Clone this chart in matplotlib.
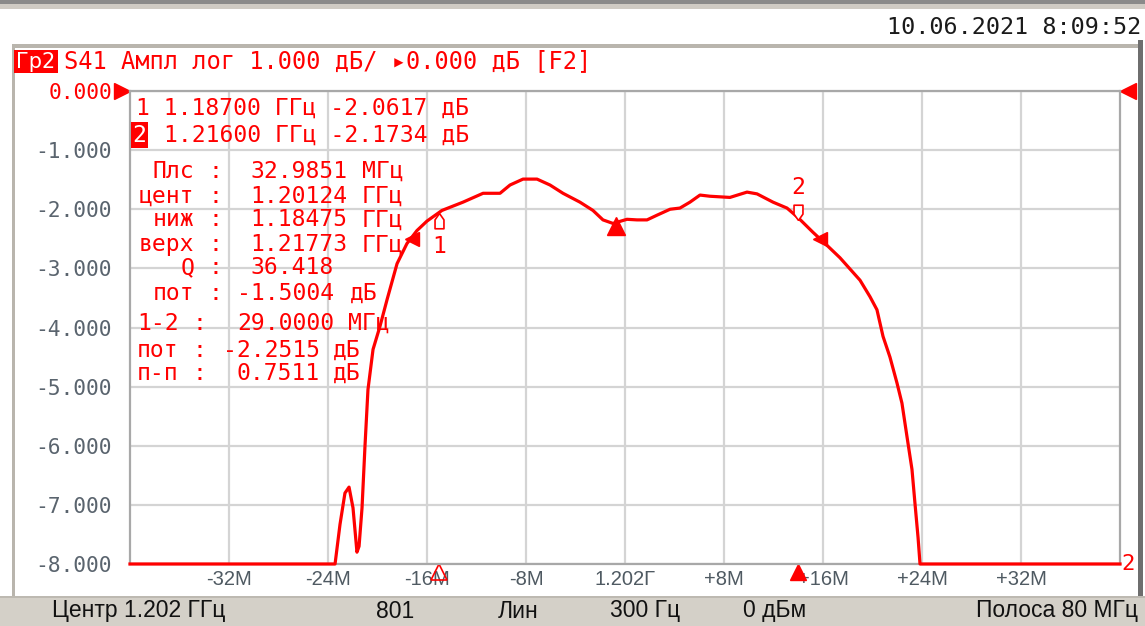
import matplotlib
matplotlib.use('Agg')
import matplotlib.pyplot as plt
from matplotlib.patches import Rectangle
from matplotlib.path import Path
from matplotlib.transforms import blended_transform_factory

# ---------------- data ----------------
freq_offset_mhz = [-40, -23.43, -23.03, -22.63, -22.30, -21.98, -21.66, -21.49, -21.25, -21.01,
                   -20.77, -20.36, -19.80, -19.23, -18.42, -17.62, -16.81, -16.0, -14.79, -13.09,
                   -11.47, -10.10, -9.29, -8.24, -7.11, -6.06, -5.01, -3.64, -2.59, -1.78,
                   -0.97, 0.16, 0.97, 1.78, 2.59, 3.64, 4.44, 5.25, 6.06, 6.87,
                   8.48, 9.86, 10.67, 11.96, 13.09, 13.98, 15.19, 16.32, 17.37, 18.99,
                   19.80, 20.36, 20.85, 21.41, 21.98, 22.38, 22.79, 23.19, 23.43, 23.68,
                   23.84, 40]
s41_db = [-8, -8, -7.33, -6.8, -6.7, -7.05, -7.8, -7.7, -7.05, -6.0,
          -5.05, -4.37, -3.98, -3.53, -2.92, -2.58, -2.36, -2.2, -2.02, -1.88,
          -1.73, -1.73, -1.59, -1.49, -1.49, -1.59, -1.73, -1.88, -2.02, -2.18,
          -2.24, -2.17, -2.18, -2.18, -2.1, -2.0, -1.98, -1.88, -1.76, -1.78,
          -1.8, -1.71, -1.74, -1.88, -1.98, -2.14, -2.39, -2.61, -2.82, -3.2,
          -3.48, -3.7, -4.15, -4.5, -4.94, -5.28, -5.85, -6.4, -6.97, -7.55,
          -8.0, -8.0]

x_ticks = [-32, -24, -16, -8, 0, 8, 16, 24, 32]
x_tick_labels = ['-32M', '-24M', '-16M', '-8M', '1.202Г', '+8M', '+16M', '+24M', '+32M']
y_ticks = [0, -1, -2, -3, -4, -5, -6, -7, -8]
y_tick_labels = ['0.000', '-1.000', '-2.000', '-3.000', '-4.000', '-5.000', '-6.000', '-7.000', '-8.000']

marker_freq = [-15.0, 14.0]           # offsets from centre, MHz (1.18700 / 1.21600 GHz)
marker_db = [-2.0617, -2.1734]
bw_low_high = [-17.25, 15.73]          # 1.18475 / 1.21773 GHz
bw_level_db = -2.5
centre_freq = -0.76                    # 1.20124 GHz
centre_level_db = -2.28

marker_lines = ['1 1.18700 ГГц -2.0617 дБ', '1.21600 ГГц -2.1734 дБ']
stats1_labels = ['Плс', 'цент', 'ниж', 'верх', 'Q', 'пот']
stats1_values = ['32.9851', '1.20124', '1.18475', '1.21773', '36.418', '-1.5004']
stats1_units = ['МГц', 'ГГц', 'ГГц', 'ГГц', '', 'дБ']
stats2_labels = ['1-2', 'пот', 'п-п']
stats2_values = ['29.0000', '-2.2515', '0.7511']
stats2_units = ['МГц', 'дБ', 'дБ']

status_texts = ['Центр 1.202 ГГц', '801', 'Лин', '300 Гц', '0 дБм', 'Полоса 80 МГц']

# ---------------- layout helpers ----------------
W, H = 1145, 626
fig = plt.figure(figsize=(W / 100, H / 100), dpi=100)
fig.patch.set_facecolor('white')

def fx(x):
    return x / W

def fy(y):
    return 1 - y / H

def rect(x0, y0, x1, y1, color, z=0):
    fig.add_artist(Rectangle((fx(x0), fy(y1)), (x1 - x0) / W, (y1 - y0) / H,
                             transform=fig.transFigure, facecolor=color,
                             edgecolor='none', zorder=z))

MONO = ['DejaVu Sans Mono', 'DejaVu Sans']
NARROW = ['Liberation Sans Narrow', 'Liberation Sans', 'DejaVu Sans']
RED = '#ff0000'

def ftext(x, y, s, size=16.6, color=RED, ha='left', family=MONO, **kw):
    fig.text(fx(x), fy(y), s, fontsize=size, color=color, ha=ha, va='center',
             family=family, **kw)

# ---------------- window chrome ----------------
rect(0, 0, W, 4, '#8a8a8a')
rect(0, 4, W, 9, '#cfcbc4')
rect(12, 44, 1140, 48, '#b9b5ad')
rect(12, 44, 15, 598, '#b9b5ad')
rect(1138, 40, 1143, 600, '#6e6e6e')
rect(0, 597, W, 626, '#d4d0c8')
rect(0, 596, W, 598, '#bdb9b1')

ftext(1141, 28, '10.06.2021 8:09:52', size=16.8, color='#1a1a1a', ha='right')

# header
rect(14, 50, 58, 73, RED, z=3)
ftext(36, 61.5, 'Гр2', size=15, color='white', ha='center', family=['DejaVu Sans'], zorder=4)
ftext(64, 61, 'S41 Ампл лог 1.000 дБ/ ▸0.000 дБ [F2]', size=17)

# ---------------- axes ----------------
ax = fig.add_axes([fx(130), fy(564), fx(1120) - fx(130), fy(91) - fy(564)])
ax.set_xlim(-40, 40)
ax.set_ylim(-8, 0)
ax.set_xticks(x_ticks)
ax.set_xticklabels(x_tick_labels, family=NARROW, fontsize=14.5, color='#4f5a62')
ax.set_yticks(y_ticks)
ax.set_yticklabels(y_tick_labels, family=MONO, fontsize=15.3, color='#5a646e')
ax.get_yticklabels()[0].set_color(RED)
ax.tick_params(axis='both', length=0)
ax.tick_params(axis='y', pad=13)
ax.tick_params(axis='x', pad=4)
ax.grid(True, color='#d4d4d4', lw=1.6)
ax.set_axisbelow(True)
for s in ax.spines.values():
    s.set_color('#a8a8a8')
    s.set_linewidth(1.6)

ax.plot(freq_offset_mhz, s41_db, color=RED, lw=2.3, clip_on=False, zorder=5)

# reference-level triangles
bt = blended_transform_factory(ax.transAxes, ax.transData)
ax.plot([-0.008], [0], marker='>', ms=11, color=RED, transform=bt, clip_on=False)
ax.plot([1.008], [0], marker='<', ms=11, color=RED, transform=bt, clip_on=False)
ax.text(1.001, -8, '2', transform=bt, color=RED, fontsize=16, family=MONO,
        va='center', ha='left', clip_on=False, zorder=10)

# bandwidth + centre markers
ax.plot(bw_low_high, [bw_level_db] * 2, linestyle='none', marker='<', ms=10, color=RED, zorder=6)
ax.plot([centre_freq], [centre_level_db], marker='^', ms=13, color=RED, zorder=6)

# marker 1 (pointer below curve) and marker 2 (pointer above curve)
up_ptr = Path([(0, 0), (0.35, -0.5), (0.35, -1.2), (-0.35, -1.2), (-0.35, -0.5), (0, 0)])
down_ptr = Path([(0, 0), (0.35, 0.5), (0.35, 1.2), (-0.35, 1.2), (-0.35, 0.5), (0, 0)])
ax.plot([marker_freq[0]], [marker_db[0]], marker=up_ptr, ms=22, mfc='white', mec=RED,
        mew=1.2, zorder=7, linestyle='none')
ax.plot([marker_freq[1]], [marker_db[1]], marker=down_ptr, ms=22, mfc='white', mec=RED,
        mew=1.2, zorder=7, linestyle='none')
ax.annotate('1', (marker_freq[0], marker_db[0]), xytext=(0, -24), textcoords='offset points',
            ha='center', va='center', color=RED, fontsize=16.6, family=MONO, zorder=7)
ax.annotate('2', (marker_freq[1], marker_db[1]), xytext=(0, 23), textcoords='offset points',
            ha='center', va='center', color=RED, fontsize=16.6, family=MONO, zorder=7)

# markers on the frequency axis
bx = blended_transform_factory(ax.transData, ax.transAxes)
ax.plot([marker_freq[1]], [-0.017], marker='^', ms=12, color=RED, transform=bx, clip_on=False)
ax.plot([marker_freq[0]], [-0.017], marker='^', ms=11, mfc='none', mec=RED, mew=1.2,
        transform=bx, clip_on=False)

# ---------------- marker readout text ----------------
ftext(136, 108, marker_lines[0])
ftext(139.5, 135, '2', color='white', ha='center',
      bbox=dict(boxstyle='square,pad=0.08', facecolor=RED, edgecolor='none'))
ftext(164, 135, marker_lines[1])

ys1 = [171, 196, 220, 245, 268, 293]
val_x1 = [250, 250, 250, 250, 250, 237]
for lab, val, unit, y, vx in zip(stats1_labels, stats1_values, stats1_units, ys1, val_x1):
    ftext(194, y, lab, ha='right')
    ftext(215, y, ':', ha='center')
    ftext(vx, y, val)
    if unit:
        ftext(350 if unit == 'дБ' else 362, y, unit)

ys2 = [323, 350, 373]
val_x2 = [237, 223, 237]
unit_x2 = [348, 333, 333]
for lab, val, unit, y, vx, ux in zip(stats2_labels, stats2_values, stats2_units, ys2, val_x2, unit_x2):
    ftext(137, y, lab)
    ftext(199, y, ':', ha='center')
    ftext(vx, y, val)
    ftext(ux, y, unit)

# ---------------- status bar ----------------
status_x = [52, 395, 518, 645, 775, 1138]
status_ha = ['left', 'center', 'center', 'center', 'center', 'right']
for s, x, ha in zip(status_texts, status_x, status_ha):
    ftext(x, 611, s, size=16.5, color='#111111', ha=ha, family=NARROW)

fig.savefig('out.png', dpi=100)
